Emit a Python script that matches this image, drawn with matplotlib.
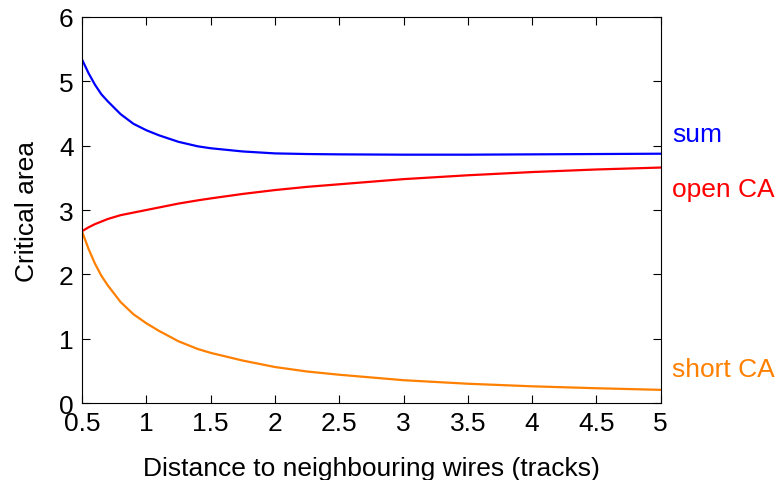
import matplotlib
matplotlib.use('Agg')
import matplotlib.pyplot as plt

plt.rcParams['font.family'] = ['Liberation Sans', 'DejaVu Sans']

distance = [0.5, 0.55, 0.6, 0.65, 0.7, 0.8, 0.9, 1.0, 1.1, 1.25, 1.4, 1.5, 1.75,
            2.0, 2.25, 2.5, 3.0, 3.5, 4.0, 4.5, 5.0]
open_ca = [2.67, 2.73, 2.78, 2.82, 2.86, 2.92, 2.96, 3.00, 3.04, 3.10, 3.15, 3.18, 3.25,
           3.31, 3.36, 3.40, 3.48, 3.54, 3.59, 3.63, 3.66]
short_ca = [2.67, 2.40, 2.17, 1.98, 1.83, 1.57, 1.38, 1.24, 1.12, 0.96, 0.84, 0.78, 0.66,
            0.56, 0.49, 0.44, 0.355, 0.30, 0.26, 0.23, 0.205]
sum_ca = [5.34, 5.13, 4.95, 4.80, 4.69, 4.49, 4.34, 4.24, 4.16, 4.06, 3.99, 3.96, 3.91,
          3.88, 3.87, 3.865, 3.86, 3.86, 3.865, 3.87, 3.875]

series = [
    ('sum', sum_ca, '#0000ff', 4.18),
    ('open CA', open_ca, '#ff0000', 3.32),
    ('short CA', short_ca, '#ff8000', 0.53),
]

fig = plt.figure(figsize=(7.81, 4.81), dpi=100)
ax = fig.add_axes([0.105, 0.16, 0.741, 0.8026])

for name, vals, color, label_y in series:
    ax.plot(distance, vals, color=color, linewidth=1.6)
    ax.text(5.09, label_y, name, color=color, fontsize=19, va='center', ha='left', clip_on=False)

ax.set_xlim(0.5, 5)
ax.set_ylim(0, 6)
ax.set_xticks([0.5, 1, 1.5, 2, 2.5, 3, 3.5, 4, 4.5, 5])
ax.set_xticklabels(['0.5', '1', '1.5', '2', '2.5', '3', '3.5', '4', '4.5', '5'])
ax.set_yticks([0, 1, 2, 3, 4, 5, 6])
ax.tick_params(direction='in', top=True, right=True, length=6, labelsize=19, pad=6)
ax.set_xlabel('Distance to neighbouring wires (tracks)', fontsize=19, labelpad=15)
ax.set_ylabel('Critical area', fontsize=19, labelpad=14)

fig.savefig('out.png')
